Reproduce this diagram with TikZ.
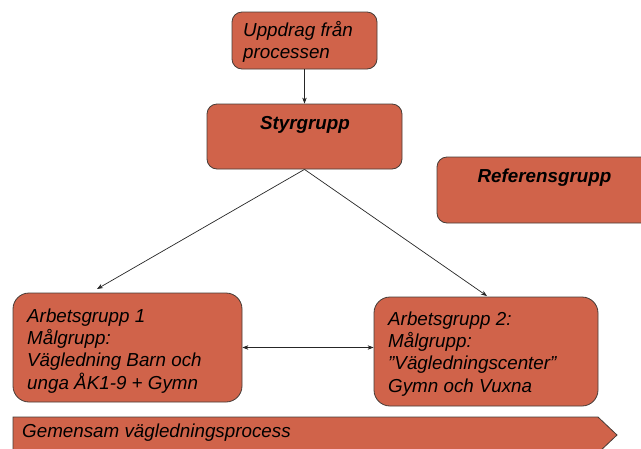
\documentclass[tikz,border=0pt]{standalone}
\usepackage{fontspec}
\setmainfont{Liberation Sans}
\usetikzlibrary{arrows.meta}
\definecolor{boxfill}{RGB}{208,99,74}
\definecolor{boxline}{RGB}{70,60,55}
\begin{document}
\begin{tikzpicture}[x=1pt,y=-1pt,
  box/.style={draw=boxline,line width=0.8pt,fill=boxfill,rounded corners=10pt,inner sep=0pt},
  bigbox/.style={box,rounded corners=16pt},
  txt/.style={font=\fontsize{18.8}{22.3}\selectfont\itshape,align=left,inner sep=0pt,anchor=base west},
  btxt/.style={font=\fontsize{18.8}{22.3}\selectfont\bfseries\itshape,inner sep=0pt,anchor=base},
  conn/.style={draw=black!85,line width=0.7pt,-{Stealth[length=6pt,width=4.5pt]}},
  both/.style={draw=black!85,line width=0.7pt,{Stealth[length=6pt,width=4.5pt]}-{Stealth[length=6pt,width=4.5pt]}},
]
\useasboundingbox (0,0) rectangle (641,448);
\clip (0,0) rectangle (641,448);
% boxes
\node[box,minimum width=145pt,minimum height=57pt] (up) at (304.5,40.5) {};
\node[box,minimum width=195pt,minimum height=65pt] (sty) at (304.5,136.5) {};
\node[box,minimum width=214pt,minimum height=66pt] (ref) at (544,190) {};
\node[bigbox,minimum width=229pt,minimum height=109pt] (ag1) at (127.5,347.5) {};
\node[bigbox,minimum width=224pt,minimum height=109pt] (ag2) at (486,351.5) {};
\draw[draw=boxline,line width=0.8pt,fill=boxfill] (13,417) -- (598,417) -- (617,435) -- (598,453) -- (13,453) -- cycle;
% texts (base anchor = last line baseline)
\node[txt] (upt) at (243,58.5) {Uppdrag från\\processen};
\node[btxt] (styt) at (305,129.5) {Styrgrupp};
\node[btxt] (reft) at (544.5,182.5) {Referensgrupp};
\node[txt] (ag1t) at (27,389) {Arbetsgrupp 1\\Målgrupp:\\Vägledning Barn och\\unga ÅK1-9 + Gymn};
\node[txt] (ag2t) at (388,392) {Arbetsgrupp 2:\\Målgrupp:\\”Vägledningscenter”\\Gymn och Vuxna};
\node[txt] (gem) at (22,437) {Gemensam vägledningsprocess};
% connectors
\coordinate (t1) at (97,289);
\coordinate (t2) at (487,296);
\draw[conn] (up.south) -- (sty.north);
\draw[conn] (sty.south) -- (t1);
\draw[conn] (sty.south) -- (t2);
\draw[both] (ag1.east) -- (ag1.east -| ag2.west);
\end{tikzpicture}
\end{document}
